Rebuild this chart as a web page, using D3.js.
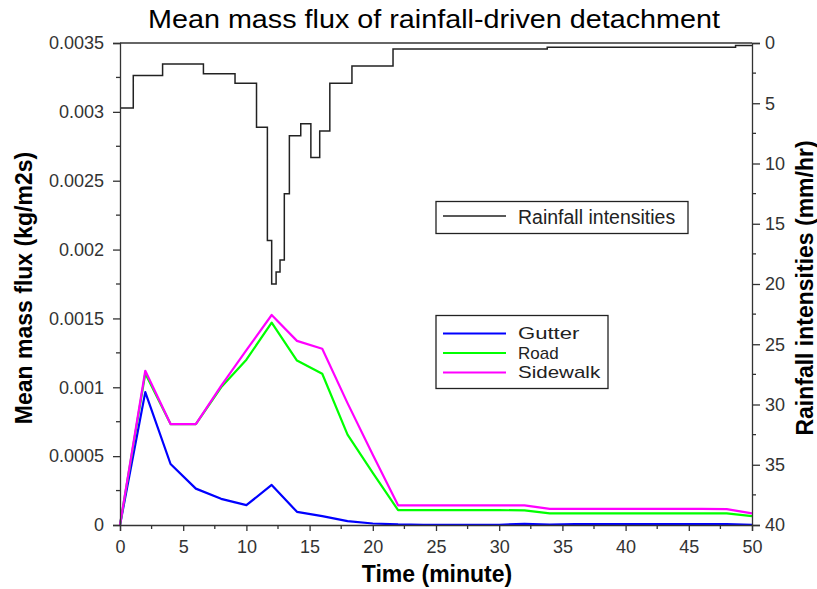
<!DOCTYPE html>
<html>
<head>
<meta charset="utf-8">
<script src="https://cdn.jsdelivr.net/npm/d3@7/dist/d3.min.js"></script>
<style>
  body { margin: 0; background: #fff; }
  svg { display: block; font-family: "Liberation Sans", Arial, sans-serif; }
</style>
</head>
<body>
<svg id="chart" width="817" height="589"></svg>
<script>
// Time of each flux sample (minutes)
const times = [0, 2, 4, 6, 8, 10, 12, 14, 16, 18, 20, 22, 24, 26, 28, 30, 32, 34, 36, 38, 40, 42, 44, 46, 48, 50];

// Mean mass flux (kg/m2s) per surface
const gutter = [0, 0.000965, 0.000443, 0.000264, 0.00019, 0.000144, 0.000291, 0.0000955, 0.000064, 0.000028, 0.000011,
  0.000004, 0.000002, 0.000002, 0.000002, 0.000002, 0.000008, 0.000003, 0.000007, 0.000007, 0.000007, 0.000007, 0.000007, 0.000007, 0.000007, 0.000002];
const road = [0, 0.00110, 0.000733, 0.000733, 0.00100, 0.00120, 0.00147, 0.001194, 0.001098, 0.000656, 0.000378,
  0.000108, 0.000108, 0.000108, 0.000108, 0.000108, 0.000106, 0.000085, 0.000085, 0.000085, 0.000085, 0.000085, 0.000085, 0.000085, 0.000085, 0.000064];
const sidewalk = [0, 0.00112, 0.000733, 0.000733, 0.00101, 0.00127, 0.001525, 0.001337, 0.00128, 0.000885, 0.00051,
  0.000143, 0.000143, 0.000143, 0.000143, 0.000143, 0.000142, 0.000117, 0.000117, 0.000117, 0.000117, 0.000117, 0.000117, 0.000117, 0.000115, 0.000085];

// Rainfall hyetograph: start time of each step (minutes) and intensity (mm/hr)
const rainStart = [0, 1.05, 3.37, 6.6, 9.1, 10.8, 11.66, 12.0, 12.35, 12.66, 13.0, 13.4, 14.3, 15.1, 15.8, 16.6, 18.35, 21.6, 33.8, 48.7, 50];
const rainValue = [5.4, 2.7, 1.75, 2.55, 3.35, 7.0, 16.4, 20.0, 19.0, 18.0, 12.5, 7.7, 6.7, 9.5, 7.3, 3.35, 1.9, 0.5, 0.35, 0.2, 0.2];

const xTicks = [0, 5, 10, 15, 20, 25, 30, 35, 40, 45, 50];
const fluxTicks = [0, 0.0005, 0.001, 0.0015, 0.002, 0.0025, 0.003, 0.0035];
const fluxTickLabels = ["0", "0.0005", "0.001", "0.0015", "0.002", "0.0025", "0.003", "0.0035"];
const rainTicks = [0, 5, 10, 15, 20, 25, 30, 35, 40];

const seriesNames = ["Gutter", "Road", "Sidewalk"];
const seriesColors = ["#0000ff", "#00ff00", "#ff00ff"];

const svg = d3.select("#chart");
const plotLeft = 120, plotRight = 752, plotTop = 43, plotBottom = 525;

const x = d3.scaleLinear().domain([0, 50]).range([plotLeft, plotRight]);
const y = d3.scaleLinear().domain([0, 0.0035]).range([plotBottom, plotTop]);
const yr = d3.scaleLinear().domain([0, 40]).range([plotTop, plotBottom]);

// Flux series, sidewalk drawn last so it sits over the road line
const line = d3.line().x((d, i) => x(times[i])).y(d => y(d));
[gutter, road, sidewalk].forEach((vals, k) => {
  svg.append("path")
    .attr("d", line(vals))
    .attr("fill", "none")
    .attr("stroke", seriesColors[k])
    .attr("stroke-width", 2.2)
    .attr("stroke-linejoin", "round");
});

// Rainfall steps
const rainLine = d3.line()
  .x((d, i) => x(rainStart[i]))
  .y(d => yr(d))
  .curve(d3.curveStepAfter);
svg.append("path")
  .attr("d", rainLine(rainValue))
  .attr("fill", "none")
  .attr("stroke", "#222")
  .attr("stroke-width", 1.5);

// Frame top edge
const axisColor = "#333";
svg.append("line").attr("x1", plotLeft).attr("x2", plotRight).attr("y1", plotTop).attr("y2", plotTop)
  .attr("stroke", axisColor).attr("stroke-width", 1.3);

// Bottom axis
const xAxis = d3.axisBottom(x).tickValues(xTicks).tickSize(6).tickPadding(9).tickFormat(d3.format("d"));
const gx = svg.append("g").attr("transform", `translate(0,${plotBottom})`).call(xAxis);
const xMinor = d3.range(2.5, 50, 5);
gx.selectAll(".minor").data(xMinor).enter().append("line").attr("class", "minor")
  .attr("x1", d => x(d)).attr("x2", d => x(d)).attr("y1", 0).attr("y2", 4)
  .attr("stroke", axisColor).attr("stroke-width", 1.3);

// Left axis
const yAxis = d3.axisLeft(y).tickValues(fluxTicks).tickSize(7).tickPadding(9)
  .tickFormat((d, i) => fluxTickLabels[i]);
const gy = svg.append("g").attr("transform", `translate(${plotLeft},0)`).call(yAxis);
const yMinor = d3.range(0.00025, 0.0035, 0.0005);
gy.selectAll(".minor").data(yMinor).enter().append("line").attr("class", "minor")
  .attr("x1", -4).attr("x2", 0).attr("y1", d => y(d)).attr("y2", d => y(d))
  .attr("stroke", axisColor).attr("stroke-width", 1.3);

// Right axis
const yrAxis = d3.axisRight(yr).tickValues(rainTicks).tickSize(8).tickPadding(5).tickFormat(d3.format("d"));
const gyr = svg.append("g").attr("transform", `translate(${plotRight},0)`).call(yrAxis);
const rMinor = d3.range(2.5, 40, 5);
gyr.selectAll(".minor").data(rMinor).enter().append("line").attr("class", "minor")
  .attr("x1", 0).attr("x2", 4).attr("y1", d => yr(d)).attr("y2", d => yr(d))
  .attr("stroke", axisColor).attr("stroke-width", 1.3);

[gx, gy, gyr].forEach(g => {
  g.select(".domain").attr("stroke", axisColor).attr("stroke-width", 1.3);
  g.selectAll(".tick line").attr("stroke", axisColor).attr("stroke-width", 1.3);
  g.selectAll(".tick text").attr("font-size", 18).attr("fill", "#333")
    .attr("font-family", "'Liberation Sans', Arial, sans-serif");
});

// Title and axis labels
svg.append("text").attr("x", 148).attr("y", 28)
  .attr("font-size", 26).attr("fill", "#000")
  .attr("textLength", 572).attr("lengthAdjust", "spacingAndGlyphs")
  .text("Mean mass flux of rainfall-driven detachment");
svg.append("text").attr("x", 437).attr("y", 582).attr("text-anchor", "middle")
  .attr("font-size", 23).attr("font-weight", "bold").attr("fill", "#000")
  .text("Time (minute)");
svg.append("text").attr("transform", "translate(32,288) rotate(-90)").attr("text-anchor", "middle")
  .attr("font-size", 23).attr("font-weight", "bold").attr("fill", "#000")
  .text("Mean mass flux (kg/m2s)");
svg.append("text").attr("transform", "translate(813,288) rotate(-90)").attr("text-anchor", "middle")
  .attr("font-size", 23).attr("font-weight", "bold").attr("fill", "#000")
  .text("Rainfall intensities (mm/hr)");

// Rainfall legend
const lg1 = svg.append("g");
lg1.append("rect").attr("x", 436).attr("y", 201.5).attr("width", 252).attr("height", 32)
  .attr("fill", "#fff").attr("stroke", "#222").attr("stroke-width", 1.3);
lg1.append("line").attr("x1", 443).attr("x2", 506).attr("y1", 216).attr("y2", 216)
  .attr("stroke", "#222").attr("stroke-width", 1.5);
lg1.append("text").attr("x", 518).attr("y", 224).attr("font-size", 19.5).attr("fill", "#222")
  .text("Rainfall intensities");

// Series legend
const lg2 = svg.append("g");
lg2.append("rect").attr("x", 436).attr("y", 315.5).attr("width", 172).attr("height", 73)
  .attr("fill", "#fff").attr("stroke", "#222").attr("stroke-width", 1.3);
seriesNames.forEach((name, i) => {
  const ly = 333.5 + i * 19.5;
  lg2.append("line").attr("x1", 443).attr("x2", 506).attr("y1", ly).attr("y2", ly)
    .attr("stroke", seriesColors[i]).attr("stroke-width", 2.2);
  lg2.append("text").attr("x", 518).attr("y", ly + 5.5).attr("font-size", 17).attr("fill", "#222")
    .attr("textLength", name.length * 10.4 - 1).attr("lengthAdjust", "spacingAndGlyphs")
    .text(name);
});
</script>
</body>
</html>
